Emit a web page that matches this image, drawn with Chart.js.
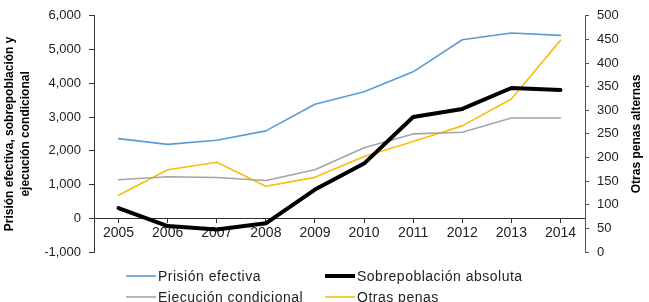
<!DOCTYPE html>
<html>
<head>
<meta charset="utf-8">
<script src="https://cdn.jsdelivr.net/npm/chart.js@4/dist/chart.umd.min.js"></script>
<style>
  html, body { margin: 0; padding: 0; background: #fff; }
  #wrap { width: 649px; height: 302px; position: relative; }
</style>
</head>
<body>
<div id="wrap"><canvas id="penasChart" width="649" height="302"></canvas></div>
<script>
// Years on the x axis
const years = ['2005', '2006', '2007', '2008', '2009', '2010', '2011', '2012', '2013', '2014'];

// Left axis series
const prisionEfectiva = [2360, 2190, 2310, 2590, 3380, 3750, 4340, 5290, 5490, 5420];
const sobrepoblacion = [300, -230, -330, -150, 850, 1620, 3000, 3240, 3860, 3800];
const ejecucionCondicional = [1140, 1230, 1210, 1120, 1440, 2090, 2500, 2550, 2970, 2970];

// Right axis series
const otrasPenas = [120, 174, 190, 139, 158, 202, 234, 267, 324, 448];

// Tick ranges
const leftTicks = { min: -1000, max: 6000, step: 1000 };
const rightTicks = { min: 0, max: 500, step: 50 };

const FONT = 'Liberation Sans, Arial, sans-serif';

// Legend laid out in two fixed columns, like the original
const gridLegend = {
    id: 'gridLegend',
    afterDraw(chart) {
        const ctx = chart.ctx;
        const cols = [126, 325];
        const rows = [276, 297];
        ctx.save();
        ctx.font = '14px ' + FONT;
        ctx.letterSpacing = '0.5px';
        ctx.textBaseline = 'middle';
        chart.data.datasets.forEach((ds, i) => {
            const x = cols[i % 2];
            const y = rows[Math.floor(i / 2)];
            ctx.strokeStyle = ds.borderColor;
            ctx.lineWidth = ds.borderWidth;
            ctx.beginPath();
            ctx.moveTo(x, y);
            ctx.lineTo(x + 30, y);
            ctx.stroke();
            ctx.fillStyle = '#222';
            ctx.fillText(ds.label, x + 32, y + 1);
        });
        ctx.restore();
    }
};

// Right axis title reads bottom-to-top
const rightTitle = {
    id: 'rightTitle',
    afterDraw(chart) {
        const ctx = chart.ctx;
        const area = chart.chartArea;
        ctx.save();
        ctx.translate(637, (area.top + area.bottom) / 2);
        ctx.rotate(-Math.PI / 2);
        ctx.font = 'bold 12px ' + FONT;
        ctx.fillStyle = '#000';
        ctx.textAlign = 'center';
        ctx.textBaseline = 'middle';
        ctx.fillText('Otras penas alternas', 0, 0);
        ctx.restore();
    }
};

new Chart(document.getElementById('penasChart'), {
    type: 'line',
    data: {
        labels: years,
        datasets: [
            { label: 'Prisión efectiva', data: prisionEfectiva, borderColor: '#5b9bd5', borderWidth: 1.6, yAxisID: 'y' },
            { label: 'Sobrepoblación absoluta', data: sobrepoblacion, borderColor: '#000000', borderWidth: 4, yAxisID: 'y' },
            { label: 'Ejecución condicional', data: ejecucionCondicional, borderColor: '#a5a5a5', borderWidth: 1.6, yAxisID: 'y' },
            { label: 'Otras penas', data: otrasPenas, borderColor: '#f5bf0f', borderWidth: 1.6, yAxisID: 'y1' }
        ]
    },
    options: {
        responsive: false,
        animation: false,
        layout: { padding: { top: 14, bottom: 50 } },
        elements: {
            point: { radius: 0 },
            line: { tension: 0, borderJoinStyle: 'round', borderCapStyle: 'round' }
        },
        plugins: {
            legend: { display: false },
            tooltip: { enabled: false }
        },
        scales: {
            x: {
                position: { y: 0 },
                offset: true,
                grid: { offset: false, drawOnChartArea: false, drawTicks: true, tickLength: 4, color: '#333' },
                border: { color: '#333', width: 1 },
                ticks: { color: '#222', font: { family: FONT, size: 14 }, padding: 2, maxRotation: 0 }
            },
            y: {
                position: 'left',
                min: leftTicks.min,
                max: leftTicks.max,
                afterFit(scale) { scale.width = 94; },
                grid: { drawOnChartArea: false, drawTicks: true, tickLength: 5, color: '#333' },
                border: { color: '#333', width: 1 },
                ticks: { stepSize: leftTicks.step, color: '#222', font: { family: FONT, size: 13 }, padding: 8 },
                title: {
                    display: true,
                    text: ['Prisión efectiva, sobrepoblación y', 'ejecución condicional'],
                    color: '#000',
                    font: { family: FONT, size: 12, weight: 'bold', lineHeight: 1.3 },
                    padding: { top: 2, bottom: 0 }
                }
            },
            y1: {
                position: 'right',
                min: rightTicks.min,
                max: rightTicks.max,
                afterFit(scale) { scale.width = 64; },
                grid: { drawOnChartArea: false, drawTicks: true, tickLength: 4, color: '#555' },
                border: { color: '#555', width: 1 },
                ticks: { stepSize: rightTicks.step, color: '#222', font: { family: FONT, size: 13 }, padding: 8 }
            }
        }
    },
    plugins: [gridLegend, rightTitle]
});
</script>
</body>
</html>
